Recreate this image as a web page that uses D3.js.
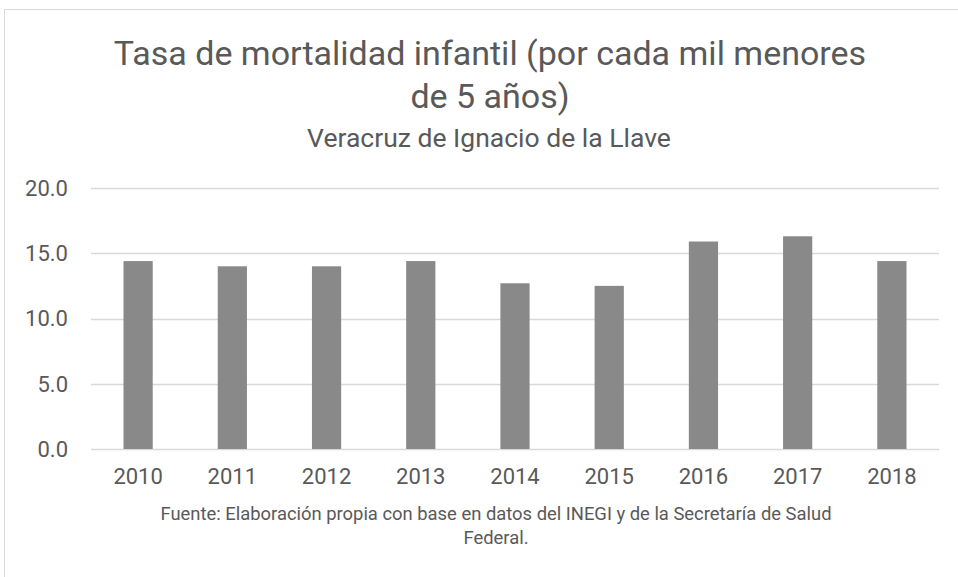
<!DOCTYPE html>
<html><head><meta charset="utf-8">
<script src="https://cdn.jsdelivr.net/npm/d3@7"></script>
<style>body{margin:0;background:#fff;}svg{display:block;}</style>
</head><body>
<svg id="c" width="958" height="577"></svg>
<script>
const years = ["2010","2011","2012","2013","2014","2015","2016","2017","2018"];
const values = [14.4, 14.0, 14.0, 14.4, 12.7, 12.5, 15.9, 16.3, 14.4];
const yTicks = [0, 5, 10, 15, 20];
const titleLines = ["Tasa de mortalidad infantil (por cada mil menores", "de 5 años)"];
const subtitle = "Veracruz de Ignacio de la Llave";
const sourceLines = ["Fuente: Elaboración propia con base en datos del INEGI y de la Secretaría de Salud", "Federal."];

const font = "Roboto, 'Liberation Sans', sans-serif";
const textColor = "#595959";
const svg = d3.select("#c");

svg.append("path").attr("d","M4.5,577 V9.5 H958").attr("fill","none").attr("stroke","#d9d9d9").attr("stroke-width",1);

const x = d3.scaleBand().domain(years).range([91, 939]).paddingInner(0.69).paddingOuter(0.345);
const y = d3.scaleLinear().domain([0, 20]).range([449, 188]);

const g = svg.append("g");
g.selectAll("line.grid").data(yTicks).join("line")
  .attr("x1", 91).attr("x2", 939)
  .attr("y1", d => Math.round(y(d)) + 0.5).attr("y2", d => Math.round(y(d)) + 0.5)
  .attr("stroke", "#d9d9d9").attr("stroke-width", 1.5);

g.selectAll("rect").data(values).join("rect")
  .attr("x", (d,i) => x(years[i])).attr("width", x.bandwidth())
  .attr("y", d => y(d)).attr("height", d => y(0) - y(d))
  .attr("fill", "#898989");

g.selectAll("text.yt").data(yTicks).join("text")
  .attr("x", 68).attr("y", d => y(d)).attr("dy", "0.36em")
  .attr("text-anchor", "end").attr("font-family", font).attr("font-size", 22).attr("fill", textColor)
  .text(d => d3.format(".1f")(d));

g.selectAll("text.xt").data(years).join("text")
  .attr("x", d => x(d) + x.bandwidth()/2).attr("y", 484)
  .attr("text-anchor", "middle").attr("font-family", font).attr("font-size", 22).attr("fill", textColor)
  .text(d => d);

svg.selectAll("text.title").data(titleLines).join("text")
  .attr("x", 490).attr("y", (d,i) => 65 + i*43)
  .attr("text-anchor", "middle").attr("font-family", font).attr("font-size", 34).attr("fill", textColor)
  .text(d => d);

svg.append("text").attr("x", 489).attr("y", 147).attr("text-anchor", "middle")
  .attr("font-family", font).attr("font-size", 26.5).attr("fill", textColor).text(subtitle);

svg.selectAll("text.src").data(sourceLines).join("text")
  .attr("x", 496).attr("y", (d,i) => 520 + i*24)
  .attr("text-anchor", "middle").attr("font-family", font).attr("font-size", 18.4).attr("fill", textColor)
  .text(d => d);
</script>
</body></html>
